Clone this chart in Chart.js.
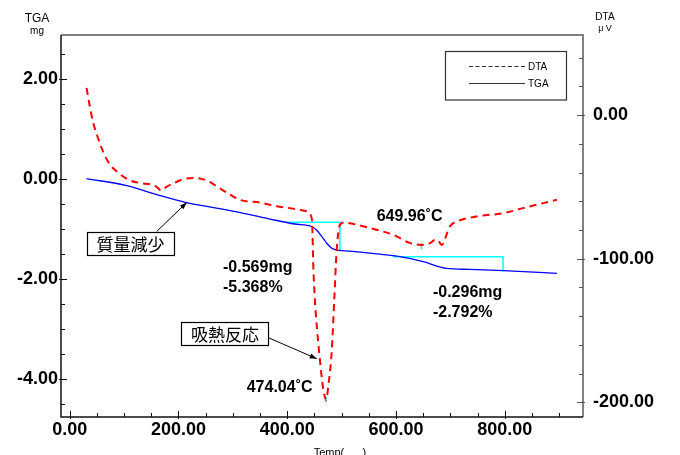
<!DOCTYPE html>
<html lang="ja">
<head>
  <meta charset="UTF-8">
  <title>TGA / DTA</title>
  <script src="https://cdn.jsdelivr.net/npm/chart.js"></script>
  <style>
    html, body { margin: 0; padding: 0; background: #fff; }
    #wrap { width: 680px; height: 455px; }
  </style>
</head>
<body>
  <div id="wrap"><canvas id="thermoChart" width="680" height="455"></canvas></div>

  <script>
    // TGA curve (mass, mg) against temperature
    const tgaTemp = [31, 105, 160, 215, 289, 368, 414, 445, 454, 463.5, 472.7, 482, 491, 525, 565, 607.5, 650, 693, 736, 797.5, 896];
    const tgaMass = [0.01, -0.13, -0.31, -0.47, -0.615, -0.80, -0.90, -0.95, -1.02, -1.15, -1.285, -1.386, -1.42, -1.454, -1.50, -1.555, -1.655, -1.79, -1.81, -1.836, -1.89];

    // DTA curve (uV) against temperature
    const dtaTemp = [31, 37, 43, 53, 62, 74, 89, 108, 132, 151, 160, 168, 178, 194, 206, 227, 252, 268, 289, 313, 350, 381, 408, 429, 438, 444, 446, 448, 451, 458.5, 466.5, 469.5, 471.5, 475.5, 482, 486.5, 491, 497, 506, 515, 552, 595, 626, 647.5, 663, 672, 678, 684, 699, 712, 748.5, 797.5, 834, 871, 896];
    const dtaSignal = [19, 6, -5, -17, -26, -34.5, -40, -45, -47.5, -48.5, -50, -52.5, -50, -47, -45, -43.8, -45.5, -49, -54, -59, -61, -63.5, -65, -66.5, -67.5, -70.5, -76, -105, -129, -164, -191.5, -196.5, -198.5, -189, -164, -129, -94, -76.5, -74.8, -75.3, -78.7, -83.4, -89.2, -90.4, -89.2, -86.9, -87.5, -90.4, -77.6, -74.1, -70.6, -68.3, -64.8, -61.3, -59];

    // mass-loss steps (cyan)
    const step1Temp = [396, 497, 497];
    const step1Mass = [-0.863, -0.863, -1.432];
    const step2Temp = [594, 797, 797];
    const step2Mass = [-1.555, -1.555, -1.851];

    // peak markers on DTA
    const peakTemp = [471, 647];
    const peakTop = [-196, -89];
    const peakBottom = [-200, -93.5];

    // major tick labels
    const xTickValues = [0, 200, 400, 600, 800];
    const tgaTickValues = [2, 0, -2, -4];
    const dtaTickValues = [0, -100, -200];

    // annotation texts, placed at (temp, mg)
    const noteTexts = ['649.96˚C', '474.04˚C', '-0.569mg', '-5.368%', '-0.296mg', '-2.792%'];
    const noteTemp = [564.6, 325.5, 282, 282, 668, 668];
    const noteMass = [-0.84, -4.27, -1.86, -2.27, -2.37, -2.77];

    const boxTexts = ['質量減少', '吸熱反応'];
    const boxTemp = [111.8, 285.6];
    const boxMass = [-1.29, -3.09];
    const arrowFrom = [[160, -1.05], [365.3, -3.18]];
    const arrowTo = [[215.2, -0.47], [454.3, -3.60]];

    const pts = (xs, ys) => xs.map((x, i) => ({ x: x, y: ys[i] }));
    const isIn = (list, v) => list.some(m => Math.abs(m - v) < 1e-6);

    const numFont = { family: "'Liberation Sans', Arial, sans-serif", size: 18, weight: 'bold' };

    function drawArrow(ctx, x1, y1, x2, y2) {
      ctx.beginPath();
      ctx.moveTo(x1, y1);
      ctx.lineTo(x2, y2);
      ctx.stroke();
      const a = Math.atan2(y2 - y1, x2 - x1), L = 7, W = 2.5;
      ctx.beginPath();
      ctx.moveTo(x2, y2);
      ctx.lineTo(x2 - L * Math.cos(a) + W * Math.sin(a), y2 - L * Math.sin(a) - W * Math.cos(a));
      ctx.lineTo(x2 - L * Math.cos(a) - W * Math.sin(a), y2 - L * Math.sin(a) + W * Math.cos(a));
      ctx.closePath();
      ctx.fill();
    }

    const decorations = {
      id: 'decorations',
      afterDatasetsDraw(chart) {
        const { ctx, chartArea: a, scales } = chart;
        const sx = scales.x, st = scales.yTga, sd = scales.yDta;
        ctx.save();

        // frame
        ctx.lineWidth = 2;
        ctx.strokeStyle = '#808080';
        ctx.beginPath();
        ctx.moveTo(a.left, a.top);
        ctx.lineTo(a.right, a.top);
        ctx.lineTo(a.right, a.bottom);
        ctx.stroke();
        ctx.lineWidth = 1.5;
        ctx.strokeStyle = '#111';
        ctx.beginPath();
        ctx.moveTo(a.left, a.top);
        ctx.lineTo(a.left, a.bottom);
        ctx.lineTo(a.right, a.bottom);
        ctx.stroke();

        // inward tick marks
        ctx.lineWidth = 1;
        ctx.strokeStyle = '#111';
        sx.ticks.forEach(t => {
          const p = Math.round(sx.getPixelForValue(t.value)) + 0.5;
          const major = isIn(xTickValues, t.value);
          ctx.beginPath();
          ctx.moveTo(p, a.bottom + (major ? 2 : 0));
          ctx.lineTo(p, a.bottom - (major ? 6 : 4));
          ctx.stroke();
        });
        st.ticks.forEach(t => {
          const p = Math.round(st.getPixelForValue(t.value)) + 0.5;
          const major = isIn(tgaTickValues, t.value);
          ctx.beginPath();
          ctx.moveTo(a.left - (major ? 2 : 0), p);
          ctx.lineTo(a.left + (major ? 6 : 4), p);
          ctx.stroke();
        });
        ctx.strokeStyle = '#555';
        sd.ticks.forEach(t => {
          const p = Math.round(sd.getPixelForValue(t.value)) + 0.5;
          const major = isIn(dtaTickValues, t.value);
          ctx.beginPath();
          ctx.moveTo(a.right + (major ? 2 : 0), p);
          ctx.lineTo(a.right - (major ? 6 : 4), p);
          ctx.stroke();
        });

        // legend
        ctx.lineWidth = 1.2;
        ctx.strokeStyle = '#333';
        ctx.strokeRect(445.5, 51.5, 121, 48.5);
        ctx.lineWidth = 1;
        ctx.setLineDash([4, 2.5]);
        ctx.beginPath();
        ctx.moveTo(469, 66.5);
        ctx.lineTo(525, 66.5);
        ctx.stroke();
        ctx.setLineDash([]);
        ctx.beginPath();
        ctx.moveTo(469, 83.5);
        ctx.lineTo(525, 83.5);
        ctx.stroke();
        ctx.fillStyle = '#000';
        ctx.font = "10px 'Liberation Sans', Arial, sans-serif";
        ctx.textBaseline = 'middle';
        ctx.textAlign = 'left';
        ctx.fillText('DTA', 528, 67);
        ctx.fillText('TGA', 528, 84);

        // value annotations
        ctx.font = "bold 16px 'Liberation Sans', Arial, sans-serif";
        ctx.textBaseline = 'alphabetic';
        noteTexts.forEach((txt, i) => {
          ctx.fillText(txt, sx.getPixelForValue(noteTemp[i]), st.getPixelForValue(noteMass[i]));
        });

        // arrows
        ctx.lineWidth = 1;
        ctx.strokeStyle = '#000';
        ctx.fillStyle = '#000';
        arrowFrom.forEach((f, i) => {
          drawArrow(ctx,
            sx.getPixelForValue(f[0]), st.getPixelForValue(f[1]),
            sx.getPixelForValue(arrowTo[i][0]), st.getPixelForValue(arrowTo[i][1]));
        });

        // boxed Japanese labels
        ctx.font = "17px 'Noto Sans CJK JP', sans-serif";
        ctx.textAlign = 'center';
        ctx.textBaseline = 'middle';
        boxTexts.forEach((txt, i) => {
          const cx = sx.getPixelForValue(boxTemp[i]);
          const cy = st.getPixelForValue(boxMass[i]);
          const w = 87, h = 23;
          const l = Math.round(cx - w / 2) + 0.5, tp = Math.round(cy - h / 2) + 0.5;
          ctx.fillStyle = '#fff';
          ctx.fillRect(l, tp, w, h);
          ctx.strokeStyle = '#000';
          ctx.lineWidth = 1.2;
          ctx.strokeRect(l, tp, w, h);
          ctx.fillStyle = '#000';
          ctx.fillText(txt, cx, cy + 1);
        });

        // axis titles
        ctx.textAlign = 'center';
        ctx.textBaseline = 'alphabetic';
        ctx.font = "12px 'Liberation Sans', Arial, sans-serif";
        ctx.fillText('TGA', 37, 22);
        ctx.font = "10px 'Liberation Sans', Arial, sans-serif";
        ctx.fillText('mg', 37, 34);
        ctx.font = "10px 'Liberation Sans', Arial, sans-serif";
        ctx.fillText('DTA', 605, 20);
        ctx.font = "9px 'Liberation Sans', Arial, sans-serif";
        ctx.fillText('μ V', 605, 31);
        ctx.font = "11px 'Liberation Sans', Arial, sans-serif";
        ctx.fillText('Temp(      )', 340, 456);

        ctx.restore();
      }
    };

    new Chart(document.getElementById('thermoChart'), {
      type: 'line',
      data: {
        datasets: [
          {
            label: 'DTA',
            data: pts(dtaTemp, dtaSignal),
            yAxisID: 'yDta',
            borderColor: '#ff0000',
            borderWidth: 2,
            borderDash: [7, 5],
            pointRadius: 0,
            cubicInterpolationMode: 'monotone'
          },
          {
            label: 'TGA',
            data: pts(tgaTemp, tgaMass),
            yAxisID: 'yTga',
            borderColor: '#0000ff',
            borderWidth: 1.3,
            pointRadius: 0,
            cubicInterpolationMode: 'monotone'
          },
          {
            label: 'step1',
            data: pts(step1Temp, step1Mass),
            yAxisID: 'yTga',
            borderColor: '#00ffff',
            borderWidth: 1.5,
            pointRadius: 0,
            tension: 0
          },
          {
            label: 'step2',
            data: pts(step2Temp, step2Mass),
            yAxisID: 'yTga',
            borderColor: '#00ffff',
            borderWidth: 1.5,
            pointRadius: 0,
            tension: 0
          },
          {
            label: 'peak1',
            data: [{ x: peakTemp[0], y: peakTop[0] }, { x: peakTemp[0], y: peakBottom[0] }],
            yAxisID: 'yDta',
            borderColor: '#00ffff',
            borderWidth: 1.5,
            pointRadius: 0
          },
          {
            label: 'peak2',
            data: [{ x: peakTemp[1], y: peakTop[1] }, { x: peakTemp[1], y: peakBottom[1] }],
            yAxisID: 'yDta',
            borderColor: '#00ffff',
            borderWidth: 1.5,
            pointRadius: 0
          }
        ]
      },
      options: {
        responsive: false,
        animation: false,
        devicePixelRatio: 1,
        layout: { padding: { top: 35, left: 0, right: 0, bottom: 0 } },
        plugins: {
          legend: { display: false },
          tooltip: { enabled: false }
        },
        scales: {
          x: {
            type: 'linear',
            min: -16,
            max: 944,
            afterFit: s => { s.height = 38; },
            grid: { display: false, drawTicks: false },
            border: { display: false },
            ticks: {
              stepSize: 50,
              includeBounds: false,
              autoSkip: false,
              maxRotation: 0,
              padding: 2,
              color: '#000',
              font: numFont,
              callback: v => isIn(xTickValues, v) ? v.toFixed(2) : ''
            }
          },
          yTga: {
            type: 'linear',
            position: 'left',
            min: -4.77,
            max: 2.89,
            afterFit: s => { s.width = 61; },
            grid: { display: false, drawTicks: false },
            border: { display: false },
            ticks: {
              stepSize: 0.5,
              includeBounds: false,
              autoSkip: false,
              padding: 3,
              color: '#000',
              font: numFont,
              callback: v => isIn(tgaTickValues, v) ? v.toFixed(2) : ''
            }
          },
          yDta: {
            type: 'linear',
            position: 'right',
            min: -210.3,
            max: 55.8,
            afterFit: s => { s.width = 97; },
            grid: { display: false, drawTicks: false },
            border: { display: false },
            ticks: {
              stepSize: 20,
              includeBounds: false,
              autoSkip: false,
              padding: 10,
              color: '#000',
              font: numFont,
              callback: v => isIn(dtaTickValues, v) ? v.toFixed(2) : ''
            }
          }
        }
      },
      plugins: [decorations]
    });
  </script>
</body>
</html>
